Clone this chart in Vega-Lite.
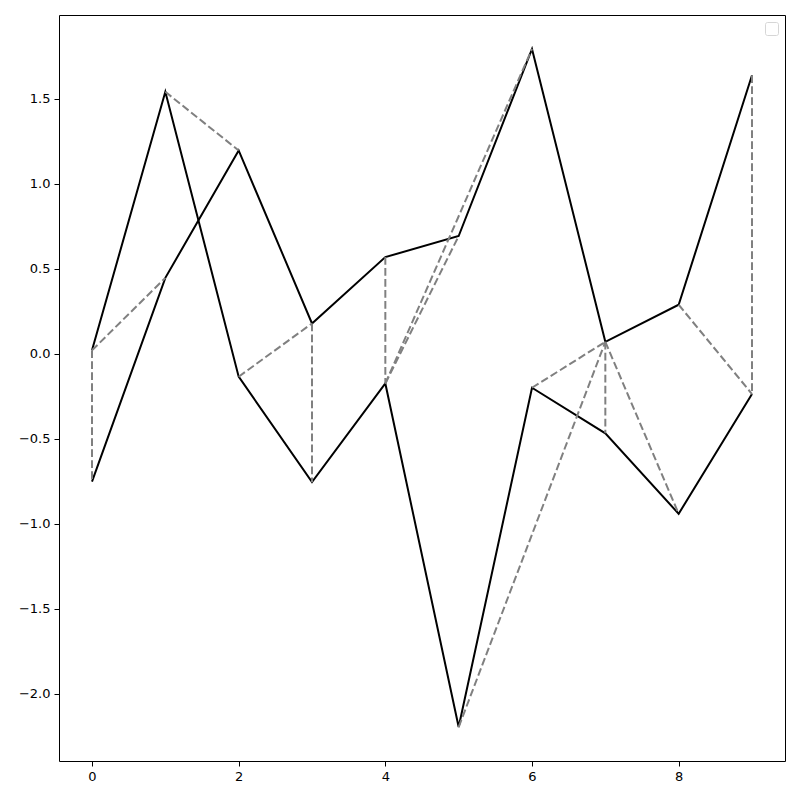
{
  "$schema": "https://vega.github.io/schema/vega-lite/v6.json",
  "autosize": "none",
  "padding": {"left": 59, "top": 15, "right": 15, "bottom": 39},
  "width": 726,
  "height": 746,
  "background": "white",
  "config": {
    "view": {"stroke": "black", "strokeWidth": 1},
    "axis": {
      "grid": false,
      "domain": false,
      "ticks": true,
      "tickColor": "black",
      "tickSize": 5,
      "tickWidth": 1,
      "labelFont": "DejaVu Sans",
      "labelFontSize": 13,
      "labelColor": "black",
      "labelPadding": 4,
      "title": null
    }
  },
  "datasets": {
    "lines": [
      {"g": "a", "x": 0, "y": 0.02},
      {"g": "a", "x": 1, "y": 1.54},
      {"g": "a", "x": 2, "y": -0.135},
      {"g": "a", "x": 3, "y": -0.755},
      {"g": "a", "x": 4, "y": -0.175},
      {"g": "a", "x": 5, "y": -2.195},
      {"g": "a", "x": 6, "y": -0.2},
      {"g": "a", "x": 7, "y": -0.468},
      {"g": "a", "x": 8, "y": -0.941},
      {"g": "a", "x": 9, "y": -0.237},
      {"g": "b", "x": 0, "y": -0.752},
      {"g": "b", "x": 1, "y": 0.446},
      {"g": "b", "x": 2, "y": 1.195},
      {"g": "b", "x": 3, "y": 0.178},
      {"g": "b", "x": 4, "y": 0.568},
      {"g": "b", "x": 5, "y": 0.692},
      {"g": "b", "x": 6, "y": 1.792},
      {"g": "b", "x": 7, "y": 0.07},
      {"g": "b", "x": 8, "y": 0.288},
      {"g": "b", "x": 9, "y": 1.637}
    ],
    "links": [
      {"s": 1, "i": 0, "x": 0, "y": 0.02}, {"s": 1, "i": 1, "x": 0, "y": -0.752},
      {"s": 2, "i": 0, "x": 0, "y": 0.02}, {"s": 2, "i": 1, "x": 1, "y": 0.446},
      {"s": 3, "i": 0, "x": 1, "y": 1.54}, {"s": 3, "i": 1, "x": 2, "y": 1.195},
      {"s": 4, "i": 0, "x": 2, "y": -0.135}, {"s": 4, "i": 1, "x": 3, "y": 0.178},
      {"s": 5, "i": 0, "x": 3, "y": 0.178}, {"s": 5, "i": 1, "x": 3, "y": -0.755},
      {"s": 6, "i": 0, "x": 4, "y": 0.568}, {"s": 6, "i": 1, "x": 4, "y": -0.175},
      {"s": 7, "i": 0, "x": 4, "y": -0.175}, {"s": 7, "i": 1, "x": 5, "y": 0.692},
      {"s": 8, "i": 0, "x": 4, "y": -0.175}, {"s": 8, "i": 1, "x": 6, "y": 1.792},
      {"s": 9, "i": 0, "x": 5, "y": -2.195}, {"s": 9, "i": 1, "x": 7, "y": 0.07},
      {"s": 10, "i": 0, "x": 6, "y": -0.2}, {"s": 10, "i": 1, "x": 7, "y": 0.07},
      {"s": 11, "i": 0, "x": 7, "y": 0.07}, {"s": 11, "i": 1, "x": 7, "y": -0.468},
      {"s": 12, "i": 0, "x": 7, "y": 0.07}, {"s": 12, "i": 1, "x": 8, "y": -0.941},
      {"s": 13, "i": 0, "x": 8, "y": 0.288}, {"s": 13, "i": 1, "x": 9, "y": -0.237},
      {"s": 14, "i": 0, "x": 9, "y": 1.637}, {"s": 14, "i": 1, "x": 9, "y": -0.237}
    ]
  },
  "encoding": {
    "x": {
      "field": "x", "type": "quantitative",
      "scale": {"domain": [-0.45, 9.45], "nice": false, "zero": false},
      "axis": {"values": [0, 2, 4, 6, 8], "format": "d"}
    },
    "y": {
      "field": "y", "type": "quantitative",
      "scale": {"domain": [-2.3945, 1.9915], "nice": false, "zero": false},
      "axis": {"values": [-2, -1.5, -1, -0.5, 0, 0.5, 1, 1.5], "format": ".1f"}
    }
  },
  "layer": [
    {
      "data": {"name": "lines"},
      "mark": {"type": "line", "color": "black", "strokeWidth": 2},
      "encoding": {
        "detail": {"field": "g", "type": "nominal"},
        "opacity": {
          "datum": " ",
          "type": "nominal",
          "scale": {"range": [1]},
          "legend": {
            "title": null,
            "orient": "top-right",
            "offset": 7,
            "padding": 6,
            "cornerRadius": 2,
            "strokeColor": "#d6d6d6",
            "fillColor": "white",
            "symbolSize": 0,
            "symbolOpacity": 0,
            "symbolStrokeWidth": 0,
            "labelOffset": 0,
            "labelFontSize": 1,
            "labelOpacity": 0,
            "rowPadding": 0
          }
        }
      }
    },
    {
      "data": {"name": "links"},
      "mark": {"type": "line", "color": "#808080", "strokeWidth": 2, "strokeDash": [7.7, 3.3]},
      "encoding": {
        "detail": {"field": "s", "type": "nominal"},
        "order": {"field": "i", "type": "quantitative"}
      }
    }
  ]
}
